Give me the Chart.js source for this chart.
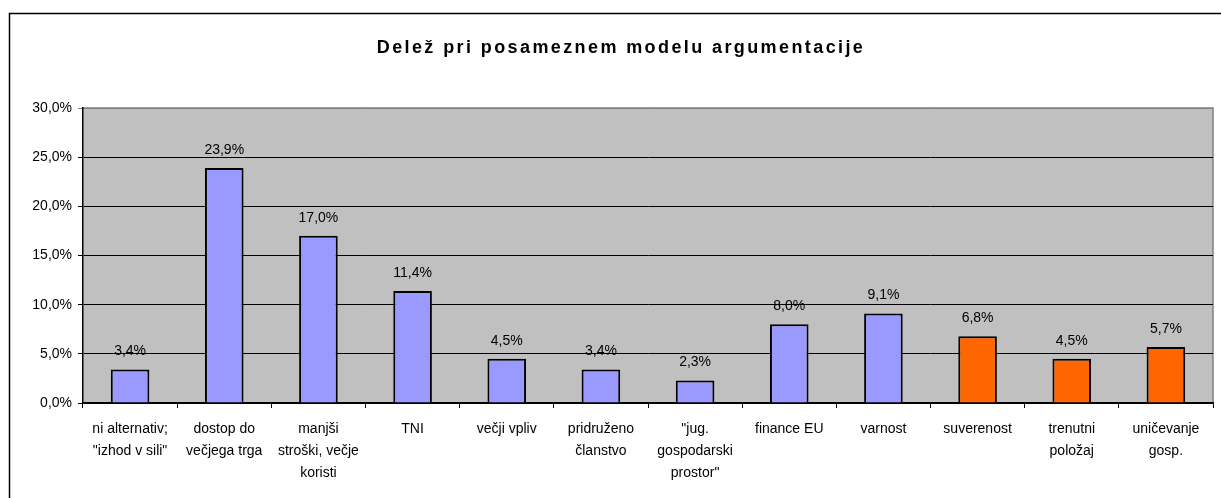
<!DOCTYPE html>
<html>
<head>
<meta charset="utf-8">
<script src="https://cdn.jsdelivr.net/npm/chart.js@4"></script>
<style>
  html, body { margin: 0; padding: 0; background: #fff; }
  canvas { display: block; }
</style>
</head>
<body>
<canvas id="chart" width="1221" height="498"></canvas>
<script>
const titleText = 'Delež pri posameznem modelu argumentacije';
const categories = [
    ['ni alternativ;', '"izhod v sili"'],
    ['dostop do', 'večjega trga'],
    ['manjši', 'stroški, večje', 'koristi'],
    'TNI',
    'večji vpliv',
    ['pridruženo', 'članstvo'],
    ['"jug.', 'gospodarski', 'prostor"'],
    'finance EU',
    'varnost',
    'suverenost',
    ['trenutni', 'položaj'],
    ['uničevanje', 'gosp.']
];
const shares = [3.4, 23.9, 17.0, 11.4, 4.5, 3.4, 2.3, 8.0, 9.1, 6.8, 4.5, 5.7];
// first 9 arguments are "pro", last 3 are "contra"
const groups = ['pro', 'pro', 'pro', 'pro', 'pro', 'pro', 'pro', 'pro', 'pro', 'contra', 'contra', 'contra'];
const yTicks = [0, 5, 10, 15, 20, 25, 30];

const FONT = '"Liberation Sans", Arial, sans-serif';
const groupColors = { pro: '#9999FF', contra: '#FF6600' };

const fmt = v => v.toFixed(1).replace('.', ',') + '%';

// frame, plot background and title
const backdrop = {
    id: 'backdrop',
    beforeDraw(chart) {
        const ctx = chart.ctx;
        const a = chart.chartArea;
        ctx.save();
        ctx.fillStyle = '#fff';
        ctx.fillRect(0, 0, chart.width, chart.height);
        ctx.strokeStyle = '#000';
        ctx.lineWidth = 1.5;
        ctx.strokeRect(9.5, 13.5, chart.width + 20, chart.height + 20);
        ctx.fillStyle = '#C0C0C0';
        ctx.fillRect(a.left, a.top, a.right - a.left, a.bottom - a.top);
        ctx.strokeStyle = '#808080';
        ctx.lineWidth = 1.5;
        ctx.beginPath();
        ctx.moveTo(a.left, a.top);
        ctx.lineTo(a.right, a.top);
        ctx.lineTo(a.right, a.bottom);
        ctx.stroke();

        ctx.fillStyle = '#000';
        ctx.font = 'bold 18px ' + FONT;
        ctx.letterSpacing = '2.4px';
        ctx.textBaseline = 'alphabetic';
        ctx.textAlign = 'left';
        const w = ctx.measureText(titleText).width;
        ctx.fillText(titleText, 621 - w / 2, 53);
        ctx.restore();
    }
};

// value labels above bars
const valueLabels = {
    id: 'valueLabels',
    afterDatasetsDraw(chart) {
        const ctx = chart.ctx;
        const meta = chart.getDatasetMeta(0);
        ctx.save();
        ctx.fillStyle = '#000';
        ctx.font = '14px ' + FONT;
        ctx.textAlign = 'center';
        ctx.textBaseline = 'middle';
        meta.data.forEach((bar, i) => {
            ctx.fillText(fmt(shares[i]), bar.x, bar.y - 18);
        });
        ctx.restore();
    }
};

new Chart(document.getElementById('chart'), {
    type: 'bar',
    data: {
        labels: categories,
        datasets: [{
            data: shares,
            backgroundColor: groups.map(g => groupColors[g]),
            borderColor: '#000',
            borderWidth: 2,
            borderSkipped: 'bottom',
            barPercentage: 0.41,
            categoryPercentage: 1
        }]
    },
    options: {
        responsive: false,
        animation: false,
        layout: { padding: { top: 108, right: 8, left: 0, bottom: 0 } },
        plugins: {
            legend: { display: false },
            title: { display: false },
            tooltip: { enabled: false }
        },
        scales: {
            x: {
                afterFit: s => { s.height = 95; },
                grid: {
                    offset: true,
                    drawOnChartArea: false,
                    drawTicks: true,
                    tickLength: 5,
                    color: '#000'
                },
                border: { display: true, color: '#000', width: 1.5 },
                ticks: {
                    color: '#000',
                    font: { family: FONT, size: 14, lineHeight: 22 / 14 },
                    padding: 10,
                    maxRotation: 0,
                    autoSkip: false
                }
            },
            y: {
                min: yTicks[0],
                max: yTicks[yTicks.length - 1],
                afterFit: s => { s.width = 83; },
                afterBuildTicks: s => { s.ticks = yTicks.map(v => ({ value: v })); },
                grid: {
                    color: ctx => (ctx.tick && ctx.tick.value === 30 ? '#808080' : '#000'),
                    lineWidth: 1,
                    drawTicks: true,
                    tickLength: 5
                },
                border: { display: true, color: '#000', width: 1.5 },
                ticks: {
                    color: '#000',
                    font: { family: FONT, size: 14 },
                    padding: 6,
                    callback: v => fmt(v)
                }
            }
        }
    },
    plugins: [backdrop, valueLabels]
});
</script>
</body>
</html>
